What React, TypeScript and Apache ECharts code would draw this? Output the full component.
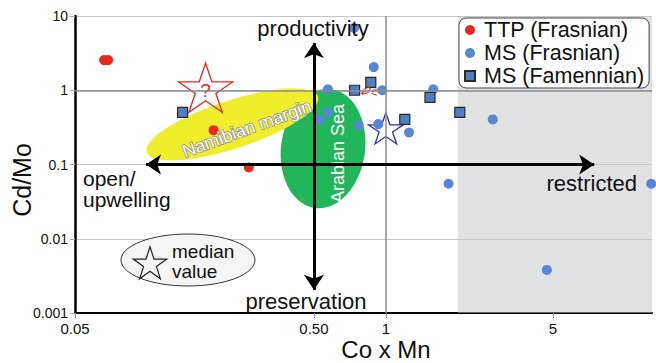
import React, { useEffect, useRef } from 'react';
import * as echarts from 'echarts';

const FONT = '"Liberation Sans", Arial, Helvetica, sans-serif';

// Axis extents and tick positions (log scales)
const xMin = 0.05;
const xMax = 13;
const yMin = 0.001;
const yMax = 10;
const xTickValues = [0.05, 0.5, 1, 5];
const xTickLabels = ['0.05', '0.50', '1', '5'];

// Samples: [Co x Mn, Cd/Mo]
const ttpFrasnian: [number, number][] = [
  [0.0662, 2.55],
  [0.0688, 2.55],
  [0.19, 0.29],
  [0.267, 0.091],
];

const msFrasnian: [number, number][] = [
  [0.736, 6.9],
  [0.89, 2.05],
  [0.572, 1.03],
  [0.966, 1.0],
  [1.58, 1.03],
  [0.572, 0.504],
  [0.53, 0.4],
  [0.77, 0.336],
  [0.93, 0.35],
  [1.25, 0.27],
  [2.8, 0.405],
  [1.83, 0.055],
  [12.9, 0.055],
  [4.72, 0.0038],
];

const msFamennian: [number, number][] = [
  [0.141, 0.504],
  [0.74, 1.0],
  [0.865, 1.28],
  [1.53, 0.8],
  [1.2, 0.405],
  [2.04, 0.504],
];

// Median markers
const ttpMedian: [number, number] = [0.176, 1.08];
const ttpMedianSmall: [number, number] = [0.843, 1.0];
const msMedian: [number, number] = [1.0, 0.306];

// Reference fields
const namibianMargin: [number, number] = [0.228, 0.347];
const arabianSea: [number, number] = [0.546, 0.164];

// Restricted-basin shading starts here
const restrictedFrom = 2;

// Productivity / preservation and open / restricted axes
const vArrow: [number, number][] = [[0.5, 4.32], [0.5, 0.00205]];
const hArrow: [number, number][] = [[0.0991, 0.1], [7.45, 0.1]];

const STAR_PATH =
  'path://M100,0L122.45,69.1L195.11,69.1L136.33,111.8L158.78,180.9L100,138.2L41.22,180.9L63.67,111.8L4.89,69.1L77.55,69.1Z';

function starPoints(cx: number, cy: number, r: number): number[][] {
  const pts: number[][] = [];
  for (let i = 0; i < 10; i++) {
    const rad = i % 2 === 0 ? r : r * 0.382;
    const a = (-90 + i * 36) * (Math.PI / 180);
    pts.push([cx + rad * Math.cos(a), cy + rad * Math.sin(a)]);
  }
  return pts;
}

function label(x: number, y: number, text: string, fontSize: number, align: string, extra: any = {}) {
  return {
    type: 'text',
    z: 50,
    style: {
      x,
      y,
      text,
      fontSize,
      fill: '#111',
      align,
      verticalAlign: 'middle',
      fontFamily: FONT,
      ...extra,
    },
  };
}

export default function App() {
  const ref = useRef<HTMLDivElement>(null);

  useEffect(() => {
    document.body.style.margin = '0';
    const chart = echarts.init(ref.current!, null, { renderer: 'svg' });

    const option: echarts.EChartsOption = {
      animation: false,
      textStyle: { fontFamily: FONT },
      grid: { left: 75, right: 4, top: 16, bottom: 50 },
      xAxis: {
        type: 'log',
        logBase: 10,
        min: xMin,
        max: xMax,
        axisLine: { onZero: false, lineStyle: { color: '#000', width: 2 } },
        axisTick: { show: true, length: 5, lineStyle: { color: '#999' }, customValues: xTickValues } as any,
        axisLabel: {
          customValues: xTickValues,
          fontSize: 15,
          color: '#111',
          margin: 8,
          formatter: (v: number) => {
            const i = xTickValues.findIndex((t) => Math.abs(t - v) < 1e-9);
            return i >= 0 ? xTickLabels[i] : '';
          },
        } as any,
        splitLine: { show: false },
        minorTick: { show: false },
      },
      yAxis: {
        type: 'log',
        logBase: 10,
        min: yMin,
        max: yMax,
        axisLine: { onZero: false, lineStyle: { color: '#000', width: 2.5 } },
        axisTick: { show: true, length: 5, lineStyle: { color: '#aaa' } },
        axisLabel: {
          fontSize: 14,
          color: '#111',
          margin: 7,
          formatter: (v: number) => String(Number(v.toPrecision(3))),
        },
        splitLine: { show: true, lineStyle: { color: '#c6c6c6', width: 1 } },
      },
      legend: {
        left: 459,
        top: 18,
        orient: 'vertical',
        z: 60,
        data: ['TTP (Frasnian)', 'MS (Frasnian)', 'MS (Famennian)'],
        itemWidth: 10,
        itemHeight: 10,
        itemGap: 1,
        padding: [1, 5, 1, 5],
        borderColor: '#444',
        borderWidth: 1,
        borderRadius: 7,
        backgroundColor: '#fff',
        textStyle: {
          fontSize: 21.5,
          lineHeight: 21,
          color: '#111',
          padding: [0, 0, 0, 4],
          fontFamily: FONT,
        },
      },
      graphic: [
        label(313, 28, 'productivity', 22, 'center'),
        label(306, 301, 'preservation', 22, 'center'),
        label(83, 189, 'open/\nupwelling', 21, 'left', { lineHeight: 21 }),
        label(637, 183, 'restricted', 22, 'right'),
        label(386, 349, 'Co x Mn', 24, 'center'),
        {
          type: 'text',
          z: 50,
          x: 22,
          y: 180,
          rotation: Math.PI / 2,
          style: {
            x: 0,
            y: 0,
            text: 'Cd/Mo',
            fontSize: 25,
            fill: '#111',
            align: 'center',
            verticalAlign: 'middle',
            fontFamily: FONT,
          },
        },
        {
          type: 'ellipse',
          z: 40,
          shape: { cx: 188, cy: 260, rx: 67, ry: 26 },
          style: { fill: '#f4f5f4', stroke: '#333', lineWidth: 1 },
        },
        {
          type: 'polygon',
          z: 41,
          shape: { points: starPoints(150, 264.5, 17.7) },
          style: { fill: 'none', stroke: '#222', lineWidth: 1.2 },
        },
        label(172, 251, 'median', 19, 'left'),
        label(172, 271, 'value', 19, 'left'),
      ] as any,
      series: [
        {
          name: 'background',
          type: 'scatter',
          data: [],
          silent: true,
          markArea: {
            silent: true,
            itemStyle: { color: 'rgba(196,198,201,0.5)' },
            data: [[{ xAxis: restrictedFrom }, { xAxis: xMax }]],
          },
          markLine: {
            silent: true,
            symbol: 'none',
            label: { show: false },
            lineStyle: { color: '#8c8c8c', width: 1.5, type: 'solid' },
            data: [{ xAxis: 1 }, { yAxis: 1 }],
          },
        },
        {
          name: 'fields',
          type: 'scatter',
          silent: true,
          symbol: 'circle',
          itemStyle: { opacity: 1 },
          data: [
            {
              value: arabianSea,
              symbolSize: [84, 120],
              symbolRotate: -8,
              itemStyle: { color: '#21b65a', opacity: 1 },
              label: {
                show: true,
                position: 'inside',
                formatter: 'Arabian Sea',
                rotate: 90,
                offset: [-5, 15],
                color: '#fff',
                fontSize: 18,
                fontFamily: FONT,
              },
            },
            {
              value: namibianMargin,
              symbolSize: [180, 48],
              symbolRotate: 18,
              itemStyle: { color: '#eeee2c', opacity: 1 },
              label: {
                show: true,
                position: 'inside',
                formatter: 'Namibian margin',
                rotate: 20,
                offset: [12, 9],
                color: '#fff',
                textBorderColor: '#8a8a8a',
                textBorderWidth: 1.5,
                fontSize: 18,
                fontFamily: FONT,
              },
            },
          ],
        },
        {
          name: 'axes',
          type: 'scatter',
          data: [],
          silent: true,
          markLine: {
            silent: true,
            symbol: ['arrow', 'arrow'],
            symbolSize: 15,
            label: { show: false },
            lineStyle: { color: '#000', width: 3, type: 'solid' },
            itemStyle: { color: '#000' },
            data: [
              [{ coord: vArrow[0] }, { coord: vArrow[1] }],
              [{ coord: hArrow[0] }, { coord: hArrow[1] }],
            ] as any,
          },
        },
        {
          name: 'medians',
          type: 'scatter',
          silent: true,
          symbol: STAR_PATH,
          itemStyle: { opacity: 1 },
          data: [
            {
              value: ttpMedian,
              symbolSize: [54, 49],
              itemStyle: { color: 'rgba(0,0,0,0)', borderColor: '#e8281e', borderWidth: 1.3, opacity: 1 },
              label: {
                show: true,
                position: 'inside',
                formatter: '?',
                offset: [0, 3],
                color: '#e8281e',
                fontSize: 19,
                fontFamily: FONT,
              },
            },
            {
              value: ttpMedianSmall,
              symbolSize: [24, 9],
              itemStyle: {
                color: 'rgba(0,0,0,0)',
                borderColor: '#e8281e',
                borderWidth: 1.2,
                borderType: 'dashed',
                opacity: 1,
              },
              label: {
                show: true,
                position: 'inside',
                formatter: '?',
                color: '#e8281e',
                fontSize: 9,
                fontFamily: FONT,
              },
            },
            {
              value: msMedian,
              symbolSize: [35, 31],
              itemStyle: { color: 'rgba(0,0,0,0)', borderColor: '#2b37a8', borderWidth: 1.3, opacity: 1 },
            },
          ],
        },
        {
          name: 'TTP (Frasnian)',
          type: 'scatter',
          symbol: 'circle',
          symbolSize: 10,
          itemStyle: { color: '#e8281e', opacity: 1 },
          data: ttpFrasnian,
        },
        {
          name: 'MS (Frasnian)',
          type: 'scatter',
          symbol: 'circle',
          symbolSize: 10,
          itemStyle: { color: '#5787d0', opacity: 1 },
          data: msFrasnian,
        },
        {
          name: 'MS (Famennian)',
          type: 'scatter',
          symbol: 'rect',
          symbolSize: 10,
          itemStyle: { color: '#4f7fc2', borderColor: '#2a2a2a', borderWidth: 1.2, opacity: 1 },
          data: msFamennian,
        },
      ] as any,
    };

    chart.setOption(option);
    return () => chart.dispose();
  }, []);

  return <div ref={ref} style={{ width: 656, height: 363 }} />;
}
